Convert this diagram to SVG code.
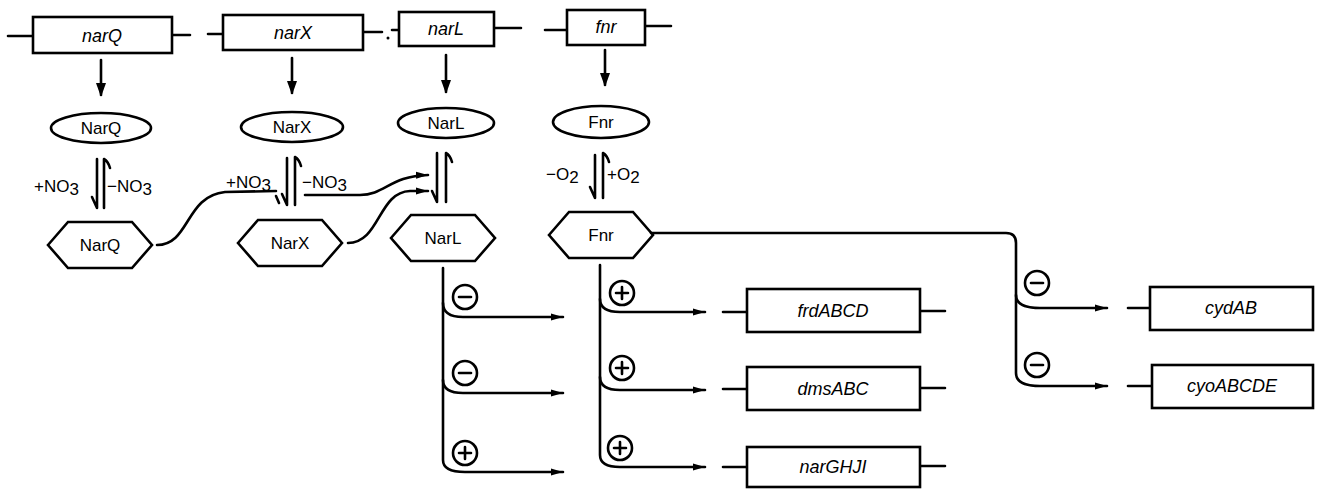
<svg xmlns="http://www.w3.org/2000/svg" width="1318" height="490" viewBox="0 0 1318 490">
  <style>
    .ln { fill: none; stroke: #000; stroke-width: 2.6; stroke-linecap: round; stroke-linejoin: round; }
    .box { fill: #fff; stroke: #000; stroke-width: 2.6; }
    .gene { font-family: "Liberation Sans", Arial, sans-serif; font-style: italic; font-size: 18px; text-anchor: middle; fill: #000; }
    .prot { font-family: "Liberation Sans", Arial, sans-serif; font-size: 17px; text-anchor: middle; fill: #000; }
    .lbl { font-family: "Liberation Sans", Arial, sans-serif; font-size: 17px; fill: #000; }
    .sign { fill: #fff; stroke: #000; stroke-width: 2.6; }
  </style>
  <defs>
    <marker id="down" markerUnits="userSpaceOnUse" markerWidth="12" markerHeight="16" refX="12" refY="6" orient="auto">
      <path d="M0,1 L14,6 L0,11 z" fill="#000"/>
    </marker>
    <marker id="tip" markerUnits="userSpaceOnUse" markerWidth="12" markerHeight="8" refX="12" refY="4" orient="auto">
      <path d="M0,0.5 L12,4 L0,7.5 z" fill="#000"/>
    </marker>
    <polygon id="hex" points="-52,0 -32,-23 32,-23 52,0 32,23 -32,23" class="box"/>
    <g id="minus"><circle r="12" class="sign"/><path d="M-6,0 H6" class="ln"/></g>
    <g id="plus"><circle r="12" class="sign"/><path d="M-6,0 H6 M0,-6 V6" class="ln"/></g>
  </defs>

  <!-- regulatory genes -->
  <g id="gene-narQ">
    <path d="M8,36 H33 M172,35 H190" class="ln"/>
    <rect x="33" y="17" width="139" height="36" class="box"/>
    <text x="102" y="42" class="gene">narQ</text>
  </g>
  <g id="gene-narX">
    <path d="M208,34 H223 M363,32 H382" class="ln"/>
    <circle cx="388" cy="38" r="1.5" fill="#000"/>
    <rect x="223" y="15" width="140" height="35" class="box"/>
    <text x="293" y="39" class="gene">narX</text>
  </g>
  <g id="gene-narL">
    <path d="M392,30 H399 M494,28 H521" class="ln"/>
    <rect x="399" y="12" width="95" height="34" class="box"/>
    <text x="446" y="35" class="gene">narL</text>
  </g>
  <g id="gene-fnr">
    <path d="M545,30 H567 M645,26 H671" class="ln"/>
    <rect x="567" y="10" width="78" height="35" class="box"/>
    <text x="606" y="33" class="gene">fnr</text>
  </g>

  <!-- gene products -->
  <g id="prot-NarQ">
    <ellipse cx="101" cy="128" rx="50" ry="15" class="box"/>
    <text x="101" y="134" class="prot">NarQ</text>
  </g>
  <g id="prot-NarX">
    <ellipse cx="292" cy="127" rx="51" ry="15" class="box"/>
    <text x="292" y="133" class="prot">NarX</text>
  </g>
  <g id="prot-NarL">
    <ellipse cx="446" cy="123" rx="48" ry="15" class="box"/>
    <text x="446" y="129" class="prot">NarL</text>
  </g>
  <g id="prot-Fnr">
    <ellipse cx="601" cy="122" rx="48" ry="16" class="box"/>
    <text x="601" y="128" class="prot">Fnr</text>
  </g>

  <!-- active forms -->
  <g id="act-NarQ">
    <use href="#hex" x="100" y="245"/>
    <text x="100" y="251" class="prot">NarQ</text>
  </g>
  <g id="act-NarX">
    <use href="#hex" x="290" y="243"/>
    <text x="290" y="249" class="prot">NarX</text>
  </g>
  <g id="act-NarL">
    <use href="#hex" x="443" y="238"/>
    <text x="443" y="244" class="prot">NarL</text>
  </g>
  <g id="act-Fnr">
    <use href="#hex" x="601" y="235"/>
    <text x="601" y="241" class="prot">Fnr</text>
  </g>

  <!-- target operons -->
  <g id="op-frdABCD">
    <path d="M723,312 H747 M920,311 H945" class="ln"/>
    <rect x="747" y="289" width="173" height="43" class="box"/>
    <text x="833" y="317" class="gene">frdABCD</text>
  </g>
  <g id="op-dmsABC">
    <path d="M723,389 H747 M920,388 H945" class="ln"/>
    <rect x="747" y="367" width="173" height="43" class="box"/>
    <text x="833" y="395" class="gene">dmsABC</text>
  </g>
  <g id="op-narGHJI">
    <path d="M723,467 H747 M920,466 H945" class="ln"/>
    <rect x="747" y="447" width="173" height="40" class="box"/>
    <text x="833" y="473" class="gene">narGHJI</text>
  </g>
  <g id="op-cydAB">
    <path d="M1128,308 H1150" class="ln"/>
    <rect x="1150" y="287" width="163" height="43" class="box"/>
    <text x="1231" y="314" class="gene">cydAB</text>
  </g>
  <g id="op-cyoABCDE">
    <path d="M1128,386 H1152" class="ln"/>
    <rect x="1152" y="365" width="161" height="43" class="box"/>
    <text x="1232" y="392" class="gene">cyoABCDE</text>
  </g>

  <!-- equilibrium labels -->
  <g id="labels">
    <text x="34" y="192" class="lbl">+NO<tspan dy="3">3</tspan></text>
    <text x="107" y="192" class="lbl">−NO<tspan dy="3">3</tspan></text>
    <text x="226" y="188" class="lbl">+NO<tspan dy="3">3</tspan></text>
    <text x="302" y="188" class="lbl">−NO<tspan dy="3">3</tspan></text>
    <text x="546" y="180" class="lbl">−O<tspan dy="3">2</tspan></text>
    <text x="607" y="180" class="lbl">+O<tspan dy="3">2</tspan></text>
  </g>

  <!-- connectors -->
  <g id="connectors">
    <!-- transcription/translation -->
    <path d="M101,60 V95" class="ln" marker-end="url(#down)"/>
    <path d="M292,58 V93" class="ln" marker-end="url(#down)"/>
    <path d="M446,55 V92" class="ln" marker-end="url(#down)"/>
    <path d="M605,50 V85" class="ln" marker-end="url(#down)"/>

    <!-- reversible activation harpoons -->
    <path d="M97,159 V208 L92,197 M104,208 V159 Q108,161 110,168" class="ln"/>
    <path d="M287,158 V205 L282,194 M295,205 V157 Q299,159 301,166" class="ln"/>
    <path d="M437,153 V202 L432,191 M446,202 V153 Q450,155 452,162" class="ln"/>
    <path d="M595,155 V198 L590,187 M603,198 V153 Q607,155 609,162" class="ln"/>

    <!-- sensor kinases acting on NarL -->
    <path d="M157,245 C190,245 185,196 225,192 L276,191" class="ln"/>
    <path d="M276,196 L279,203" class="ln" stroke-width="1.5"/>
    <path d="M305,195 H360 C385,195 390,176 428,175" class="ln" marker-end="url(#tip)"/>
    <path d="M348,243 C380,243 378,192 410,191 L428,191" class="ln" marker-end="url(#tip)"/>

    <!-- NarL regulated operons -->
    <path d="M443,268 V460 Q443,472 465,472 H563" class="ln" marker-end="url(#tip)"/>
    <path d="M443,303 Q443,317 463,317 H563" class="ln" marker-end="url(#tip)"/>
    <path d="M443,380 Q443,393 463,393 H563" class="ln" marker-end="url(#tip)"/>

    <!-- Fnr regulated operons -->
    <path d="M600,265 V455 Q600,467 620,467 H705" class="ln" marker-end="url(#tip)"/>
    <path d="M600,299 Q600,312 620,312 H705" class="ln" marker-end="url(#tip)"/>
    <path d="M600,377 Q600,390 620,390 H705" class="ln" marker-end="url(#tip)"/>

    <!-- Fnr repression of oxidase operons -->
    <path d="M651,233 H1006 Q1016,233 1016,243 V373 Q1016,386 1040,386 H1107" class="ln" marker-end="url(#tip)"/>
    <path d="M1016,295 Q1016,308 1040,308 H1107" class="ln" marker-end="url(#tip)"/>
  </g>

  <!-- effect signs -->
  <g id="signs">
    <use href="#minus" x="465" y="297"/>
    <use href="#minus" x="465" y="373"/>
    <use href="#plus" x="465" y="453"/>
    <use href="#plus" x="622" y="293"/>
    <use href="#plus" x="622" y="368"/>
    <use href="#plus" x="620" y="448"/>
    <use href="#minus" x="1037" y="283"/>
    <use href="#minus" x="1037" y="365"/>
  </g>
</svg>
